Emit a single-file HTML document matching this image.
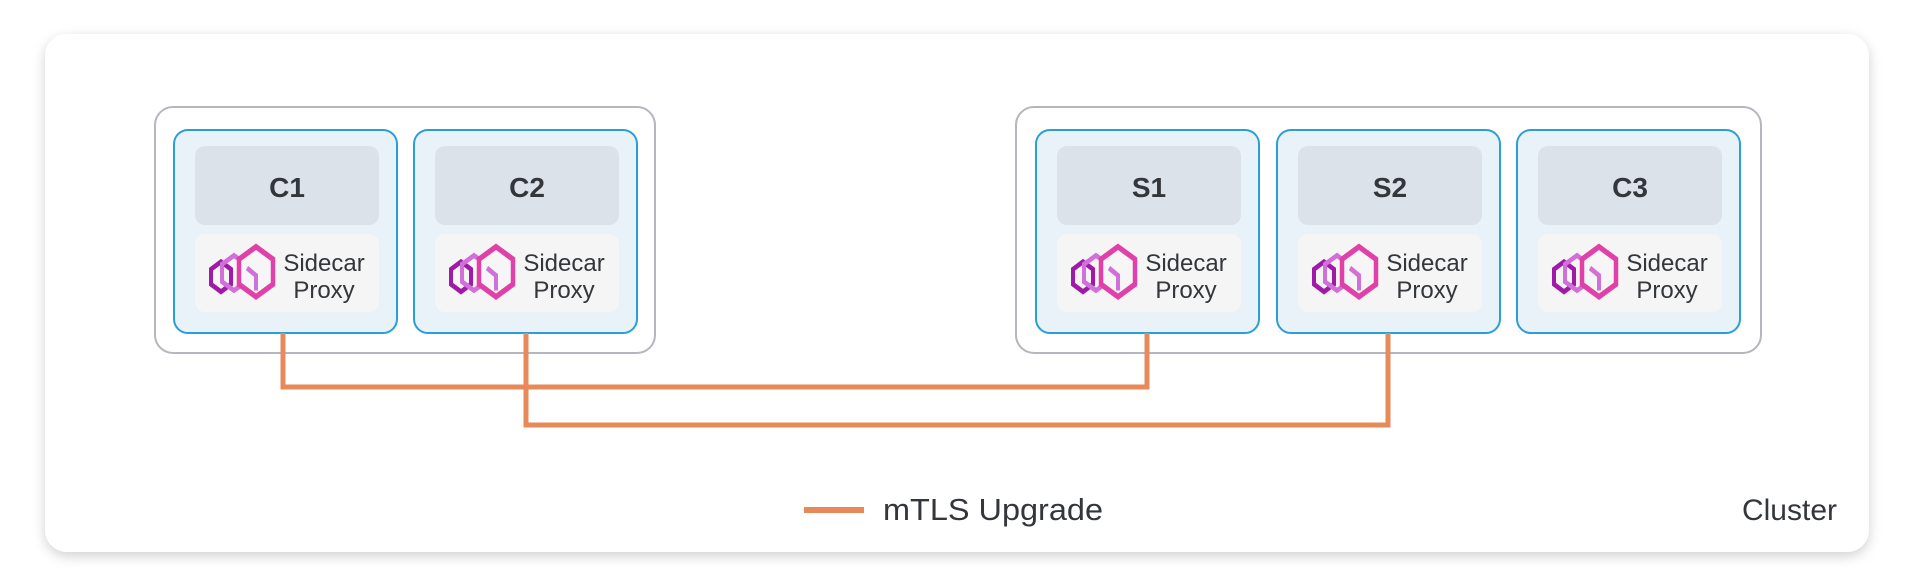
<!DOCTYPE html>
<html><head><meta charset="utf-8"><style>
html,body{margin:0;padding:0;background:#fff;}
svg{display:block;}
text{font-family:"Liberation Sans",sans-serif;fill:#33363a;}
</style></head><body>
<svg width="1915" height="588" viewBox="0 0 1915 588" xmlns="http://www.w3.org/2000/svg">
<defs>
<filter id="sh" x="-5%" y="-10%" width="110%" height="125%">
<feDropShadow dx="0" dy="4" stdDeviation="6" flood-color="#000" flood-opacity="0.18"/>
</filter>
<g id="icon">
<polygon points="20,15 30,21 30,33 20,39 10,33 10,21" fill="none" stroke="#a01aa8" stroke-width="4"/>
<polygon points="33,10 45,17 45,31 33,38 21,31 21,17" fill="none" stroke="#d070d8" stroke-width="4"/>
<polygon points="55,3 72,13 72,33 55,43 38,33 38,13" fill="#f6f6f7" stroke="#e040a8" stroke-width="4.5"/>
<path d="M46,20 L55,26 L55,38" fill="none" stroke="#d070d8" stroke-width="4"/>
</g>
<g id="pod">
<rect x="0" y="0" width="223" height="203" rx="14" fill="#eaf2f9" stroke="#2a9fd6" stroke-width="2"/>
<rect x="21" y="16" width="184" height="79" rx="10" fill="#dbe2ea"/>
<rect x="21" y="104" width="184" height="78" rx="10" fill="#f5f5f6"/>
<g transform="translate(27,113) scale(1,1.25)"><use href="#icon"/></g>
<text x="150" y="141" font-size="24" text-anchor="middle">Sidecar</text>
<text x="150" y="168" font-size="24" text-anchor="middle">Proxy</text>
</g>
</defs>
<rect x="45" y="34" width="1824" height="518" rx="22" fill="#fff" filter="url(#sh)"/>
<rect x="155" y="107" width="500" height="246" rx="18" fill="#fff" stroke="#b4b7be" stroke-width="2"/>
<rect x="1016" y="107" width="745" height="246" rx="18" fill="#fff" stroke="#b4b7be" stroke-width="2"/>
<use href="#pod" x="174" y="130"/>
<use href="#pod" x="414" y="130"/>
<use href="#pod" x="1036" y="130"/>
<use href="#pod" x="1277" y="130"/>
<use href="#pod" x="1517" y="130"/>
<g font-size="28" font-weight="bold" text-anchor="middle">
<text x="287" y="197">C1</text>
<text x="527" y="197">C2</text>
<text x="1149" y="197">S1</text>
<text x="1390" y="197">S2</text>
<text x="1630" y="197">C3</text>
</g>
<g fill="none" stroke="#e8895a" stroke-width="5">
<polyline points="283,333 283,387 1147,387 1147,333"/>
<polyline points="526,333 526,425 1388,425 1388,333"/>
<line x1="804" y1="510" x2="864" y2="510" stroke-width="6"/>
</g>
<text x="883" y="520" font-size="31" textLength="220" lengthAdjust="spacingAndGlyphs">mTLS Upgrade</text>
<text x="1837" y="520" font-size="30" text-anchor="end">Cluster</text>
</svg>
</body></html>
